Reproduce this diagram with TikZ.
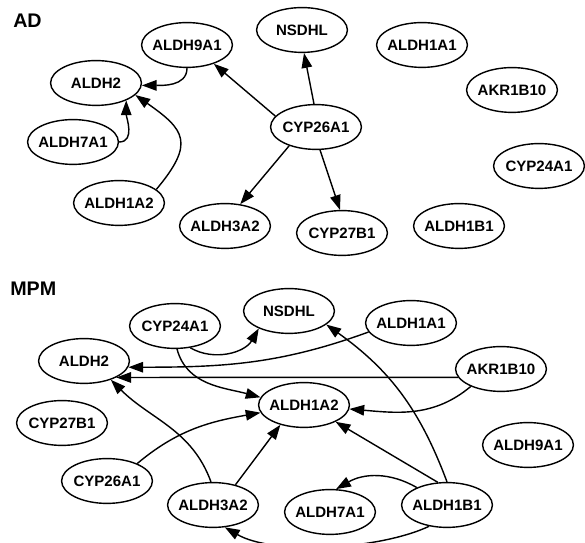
\documentclass[tikz,border=0pt]{standalone}
\usepackage{fontspec}
\setmainfont{Liberation Sans}
\usetikzlibrary{arrows.meta,shapes.geometric}
\begin{document}
\begin{tikzpicture}[x=0.025cm, y=0.025cm,
  gene/.style={draw, ellipse, line width=1pt, minimum width=2.27cm, minimum height=1.12cm, inner xsep=-4pt, inner ysep=0pt, font=\fontsize{10.7}{12}\selectfont\bfseries},
  panel/.style={anchor=west, inner sep=0pt, font=\fontsize{14}{16}\selectfont\bfseries},
  arr/.style={-{Triangle[length=10.5pt, width=7.5pt]}, line width=1pt}]
\useasboundingbox (0,0) rectangle (585,543);
\node[panel] (ad) at (13,522) {AD};
\node[gene] (ad-aldh9a1) at (187,498) {ALDH9A1};
\node[gene] (ad-aldh2) at (96,460) {ALDH2};
\node[gene] (ad-aldh7a1) at (73,401) {ALDH7A1};
\node[gene] (ad-aldh1a2) at (119,340) {ALDH1A2};
\node[gene] (ad-aldh3a2) at (225,317) {ALDH3A2};
\node[gene] (ad-cyp26a1) at (316,416) {CYP26A1};
\node[gene] (ad-nsdhl) at (302,513) {NSDHL};
\node[gene] (ad-aldh1a1) at (422,498) {ALDH1A1};
\node[gene] (ad-akr1b10) at (512,453) {AKR1B10};
\node[gene] (ad-cyp24a1) at (539,377) {CYP24A1};
\node[gene] (ad-cyp27b1) at (342,310) {CYP27B1};
\node[gene] (ad-aldh1b1) at (459,317) {ALDH1B1};
\draw[arr] (ad-aldh9a1.south) to[out=-90, in=0] (ad-aldh2.-3);
\draw[arr] (ad-aldh7a1.east) to[out=0, in=-90] (ad-aldh2.-30);
\draw[arr] (ad-aldh1a2.20) to[out=50, in=-35, looseness=1.6] (ad-aldh2.-17);
\draw[arr] (ad-cyp26a1.165) -- (ad-aldh9a1.-35); \draw[arr] (ad-cyp26a1.95) -- (ad-nsdhl.-85);
\draw[arr] (ad-cyp26a1.-145) -- (ad-aldh3a2.55); \draw[arr] (ad-cyp26a1.-80) -- (ad-cyp27b1.95);
\node[panel] (mpm) at (10,254) {MPM};
\node[gene] (mpm-cyp24a1) at (175,217) {CYP24A1};
\node[gene] (mpm-nsdhl) at (289,232) {NSDHL};
\node[gene] (mpm-aldh2) at (84,182) {ALDH2};
\node[gene] (mpm-cyp27b1) at (62,120) {CYP27B1};
\node[gene] (mpm-aldh1a2) at (304,138) {ALDH1A2};
\node[gene] (mpm-cyp26a1) at (107,62) {CYP26A1};
\node[gene] (mpm-aldh3a2) at (213,38) {ALDH3A2};
\node[gene] (mpm-aldh1a1) at (411,220) {ALDH1A1};
\node[gene] (mpm-akr1b10) at (501,174) {AKR1B10};
\node[gene] (mpm-aldh9a1) at (528,98) {ALDH9A1};
\node[gene] (mpm-aldh1b1) at (447,38) {ALDH1B1};
\node[gene] (mpm-aldh7a1) at (330,31) {ALDH7A1};
\draw[arr] (mpm-cyp24a1.-55) to[out=-30, in=-120] (mpm-nsdhl.-150);
\draw[arr] (mpm-cyp24a1.-85) to[out=-75, in=165] (mpm-aldh1a2.170);
\draw[arr] (mpm-aldh1a1.-168) to[out=200, in=0] (mpm-aldh2.-8);
\draw[arr] (mpm-akr1b10.191) -- (mpm-aldh2.-27);
\draw[arr] (mpm-akr1b10.-150) to[out=-140, in=-5] (mpm-aldh1a2.-5);
\draw[arr] (mpm-aldh1b1.north) to[bend right=17] (mpm-nsdhl.-20);
\draw[arr] (mpm-aldh1b1.112) -- (mpm-aldh1a2.-28);
\draw[arr] (mpm-aldh1b1.150) to[out=150, in=30] (mpm-aldh7a1.75);
\draw[arr] (mpm-aldh1b1.-130) to[out=-155, in=-30, looseness=0.7] (mpm-aldh3a2.-62);
\draw[arr] (mpm-aldh3a2.95) to[out=110, in=-45] (mpm-aldh2.-35);
\draw[arr] (mpm-aldh3a2.42) -- (mpm-aldh1a2.-140);
\draw[arr] (mpm-cyp26a1.30) to[out=40, in=190] (mpm-aldh1a2.190);
\end{tikzpicture}
\end{document}
